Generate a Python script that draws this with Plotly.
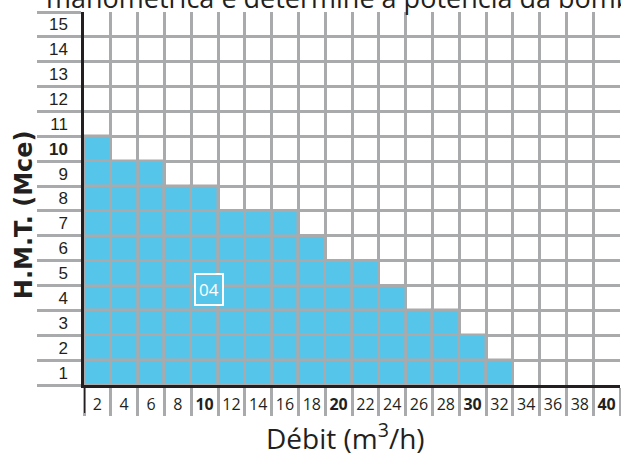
import plotly.graph_objects as go

# Data
debit = [2, 4, 6, 8, 10, 12, 14, 16, 18, 20, 22, 24, 26, 28, 30, 32, 34, 36, 38, 40]
hmt = [10, 9, 9, 8, 8, 7, 7, 7, 6, 5, 5, 4, 3, 3, 2, 1, 0, 0, 0, 0]
hmt_levels = list(range(1, 16))
bold_debit = [10, 20, 30, 40]
bold_hmt = [10]
pump_label = "04"

BLUE = "#56C5EA"
GRID = "#A9AAAC"
DARK = "#231F20"

# one unit cell per filled square so grid lines show across the blue area
cell_x, cell_base, cell_y = [], [], []
for i, h in enumerate(hmt):
    for k in range(h):
        cell_x.append(i)
        cell_base.append(k)
        cell_y.append(1)

fig = go.Figure()
fig.add_trace(go.Bar(
    x=cell_x, y=cell_y, base=cell_base, width=1,
    marker=dict(color=BLUE, line=dict(color=GRID, width=2.5)),
    hoverinfo="skip", showlegend=False,
))

xticktext = [f"<b>{d}</b>" if d in bold_debit else str(d) for d in debit]
yticktext = [f"<b>{v}</b>" if v in bold_hmt else str(v) for v in hmt_levels]

fig.update_layout(
    width=621, height=453,
    margin=dict(l=84, r=1, t=12, b=68, autoexpand=False),
    paper_bgcolor="white", plot_bgcolor="white",
    barmode="overlay", bargap=0,
    font=dict(family="Open Sans", color=DARK),
    xaxis=dict(
        range=[-0.5, len(debit) - 0.5], automargin=False,
        tickmode="array", tickvals=list(range(len(debit))), ticktext=xticktext,
        ticks="", showgrid=False, zeroline=False,
        showline=True, linecolor=DARK, linewidth=2.5,
        tickfont=dict(family="Open Sans", size=16, color=DARK),
        ticklabelstandoff=3,
        minor=dict(tickmode="array", tickvals=[i - 0.5 for i in range(len(debit) + 1)],
                   showgrid=True, gridcolor=GRID, gridwidth=2.5,
                   ticks="outside", ticklen=28, tickcolor=GRID, tickwidth=2.5),
        layer="above traces",
    ),
    yaxis=dict(
        range=[0, len(hmt_levels)], automargin=False,
        tickmode="array", tickvals=[v - 0.5 for v in hmt_levels], ticktext=yticktext,
        ticks="", showgrid=False, zeroline=False,
        showline=True, linecolor=DARK, linewidth=2.5,
        tickfont=dict(family="Liberation Sans", size=17, color=DARK),
        ticklabelstandoff=10,
        minor=dict(tickmode="array", tickvals=list(range(len(hmt_levels) + 1)),
                   showgrid=True, gridcolor=GRID, gridwidth=2.5,
                   ticks="outside", ticklen=44, tickcolor=GRID, tickwidth=2.5),
        layer="above traces",
    ),
)

# dark y-axis line continues below the x axis between the tick labels
fig.add_shape(type="line", xref="x", yref="paper", x0=-0.5, x1=-0.5, y0=-0.075, y1=0,
              line=dict(color=DARK, width=2.5))

# axis titles
fig.add_annotation(
    x=0.487, y=-0.139, xref="paper", yref="paper", xanchor="center", yanchor="middle",
    text="Débit (m<sup>3</sup>/h)", showarrow=False,
    font=dict(family="Open Sans", size=28, color=DARK),
)
fig.add_annotation(
    x=-0.112, y=0.458, xref="paper", yref="paper", xanchor="center", yanchor="middle",
    text="<b>H.M.T. (Mce)</b>", showarrow=False, textangle=-90,
    font=dict(family="DejaVu Sans", size=24, color=DARK),
)

fig.add_annotation(
    x=4.16, y=3.86, xref="x", yref="y", text=pump_label, showarrow=False,
    font=dict(family="Open Sans", size=17, color="white"),
    bordercolor="white", borderwidth=2, borderpad=3, bgcolor=BLUE,
)

# clipped line of text above the chart
fig.add_annotation(
    x=-0.0746, y=0.983, xref="paper", yref="paper", xanchor="left", yanchor="bottom",
    text="manométrica e determine a potência da bomba", showarrow=False,
    font=dict(family="Open Sans", size=27, color=DARK),
)

fig.write_html("out.html", config={"displayModeBar": False},
               post_script="document.body.style.margin='0';")
